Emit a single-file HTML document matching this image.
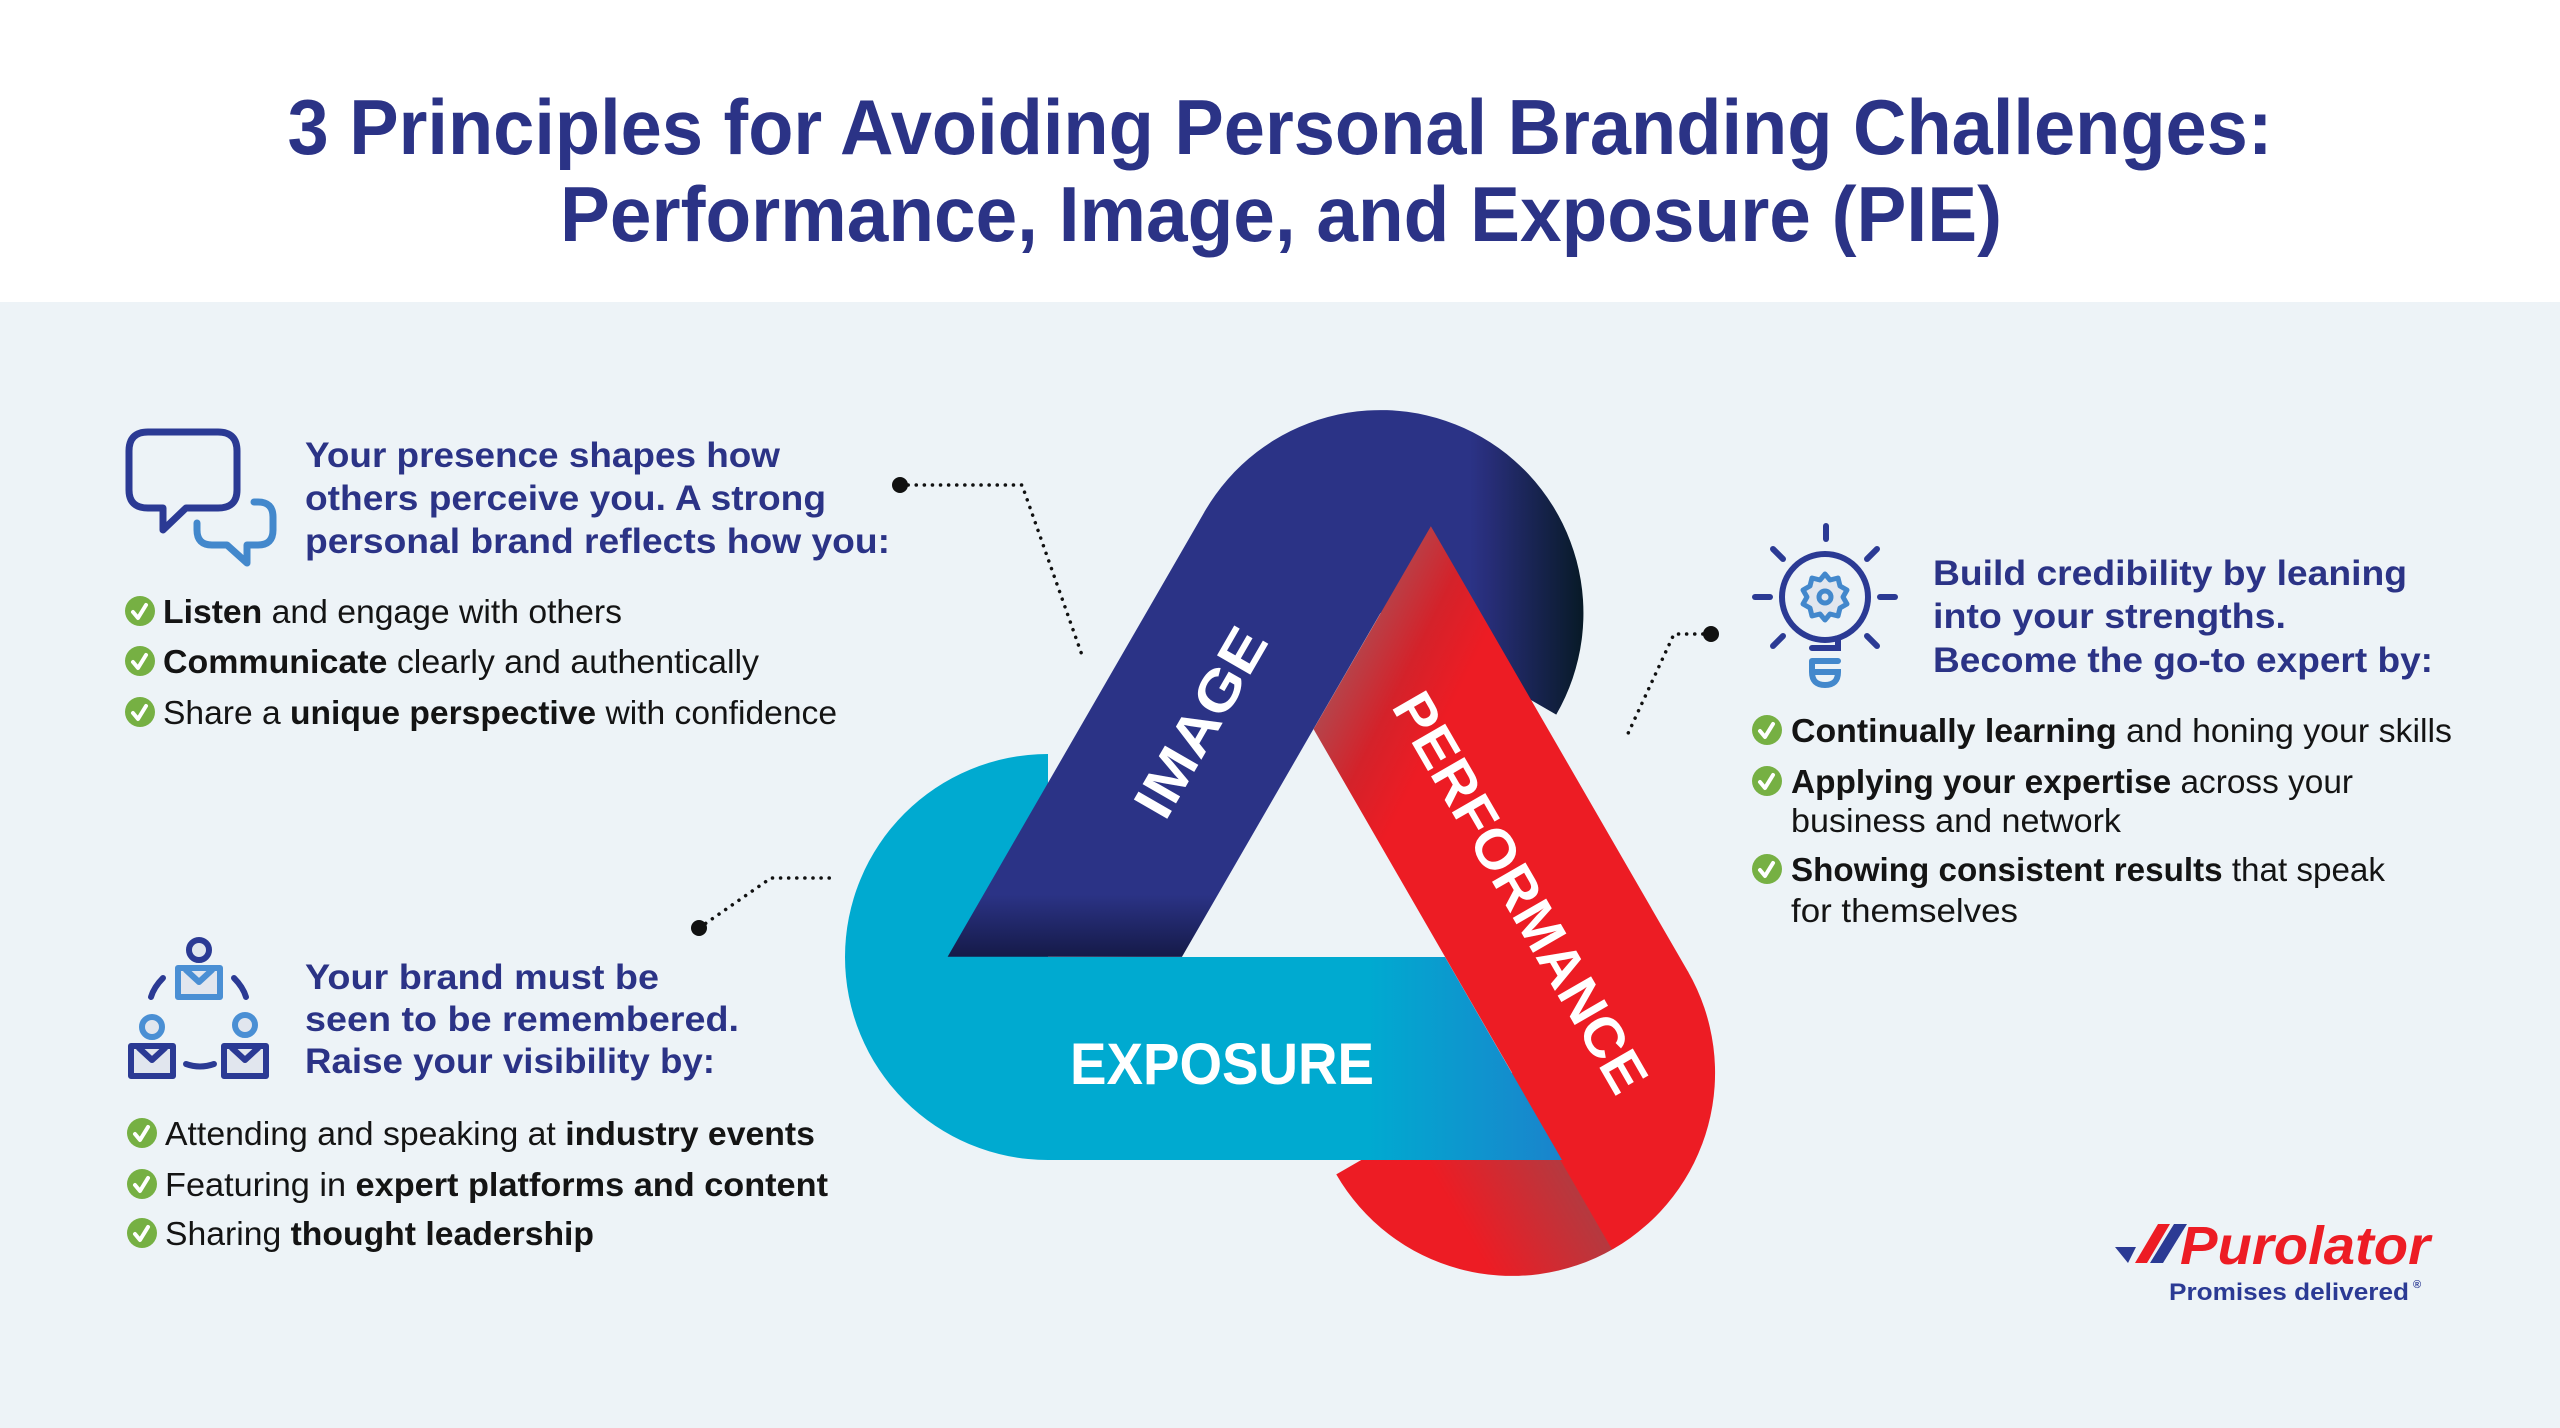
<!DOCTYPE html>
<html><head><meta charset="utf-8"><style>
html,body{margin:0;padding:0;background:#edf3f7;}
svg{display:block;}
text{font-family:"Liberation Sans",sans-serif;}
.h{font-weight:bold;fill:#2b3386;font-size:35px;}
.b{fill:#141414;font-size:33px;}
.b tspan.k{font-weight:bold;}
</style></head><body>
<svg width="2560" height="1428" viewBox="0 0 2560 1428" xmlns="http://www.w3.org/2000/svg">
<defs>
  <linearGradient id="cyS" gradientUnits="userSpaceOnUse" x1="1368" y1="0" x2="1560" y2="0">
    <stop offset="0" stop-color="#00aad0"/><stop offset="1" stop-color="#1a84cc"/></linearGradient>
  <linearGradient id="blS" gradientUnits="userSpaceOnUse" x1="0" y1="895" x2="0" y2="957" gradientTransform="rotate(-120 1313.5 881)">
    <stop offset="0" stop-color="#2b3386"/><stop offset="1" stop-color="#151a48"/></linearGradient>
  <linearGradient id="blC" gradientUnits="userSpaceOnUse" x1="1470" y1="0" x2="1582" y2="0" gradientTransform="rotate(-120 1313.5 881)">
    <stop offset="0" stop-color="#2b3386"/><stop offset="0.15" stop-color="#282e7a"/><stop offset="1" stop-color="#081a28"/></linearGradient>
  <linearGradient id="rdS" gradientUnits="userSpaceOnUse" x1="1400" y1="560" x2="1500" y2="610" gradientTransform="rotate(-240 1313.5 881)">
    <stop offset="0" stop-color="#b6434a"/><stop offset="0.5" stop-color="#d4222a"/><stop offset="1" stop-color="#ed1c24"/></linearGradient>
  <linearGradient id="rdC" gradientUnits="userSpaceOnUse" x1="0" y1="700" x2="0" y2="1160">
    <stop offset="0" stop-color="#ed1c24"/>
    <stop offset="0.30" stop-color="#ed1c24"/>
    <stop offset="0.554" stop-color="#b5393f"/>
    <stop offset="0.556" stop-color="#ed1c24"/>
    <stop offset="1" stop-color="#ed1c24"/></linearGradient>
</defs>
<rect x="0" y="0" width="2560" height="1428" fill="#edf3f7"/>
<rect x="0" y="0" width="2560" height="302" fill="#ffffff"/>

<text x="1280" y="154" text-anchor="middle" font-size="78" font-weight="bold" fill="#2b3386" textLength="1985" lengthAdjust="spacingAndGlyphs">3 Principles for Avoiding Personal Branding Challenges:</text>
<text x="1281" y="241" text-anchor="middle" font-size="78" font-weight="bold" fill="#2b3386" textLength="1442" lengthAdjust="spacingAndGlyphs">Performance, Image, and Exposure (PIE)</text>

<!-- caps -->
<path d="M1048,754 A203,203 0 0 0 1048,1160 Z" fill="#00aad0"/>
<g transform="rotate(120 1313.5 881)"><path d="M1048,754 A203,203 0 0 0 1048,1160 Z" fill="url(#blC)"/></g>
<g transform="rotate(240 1313.5 881)"><path d="M1048,754 A203,203 0 0 0 1048,1160 Z" fill="url(#rdC)"/></g>
<!-- strips -->
<path d="M1047,957 L1445,957 L1562,1160 L1047,1160 Z" fill="url(#cyS)"/>
<g transform="rotate(120 1313.5 881)"><path d="M1047,957 L1445,957 L1562,1160 L1047,1160 Z" fill="url(#blS)"/></g>
<g transform="rotate(240 1313.5 881)"><path d="M1047,957 L1445,957 L1562,1160 L1047,1160 Z" fill="url(#rdS)"/></g>

<text x="1222" y="1084" text-anchor="middle" font-size="58" font-weight="bold" fill="#fff" textLength="304" lengthAdjust="spacingAndGlyphs">EXPOSURE</text>
<text transform="translate(1200,722) rotate(-60)" x="0" y="20" text-anchor="middle" font-size="56" font-weight="bold" fill="#fff" textLength="209" lengthAdjust="spacingAndGlyphs">IMAGE</text>
<text transform="translate(1521,892) rotate(60)" x="0" y="20" text-anchor="middle" font-size="56" font-weight="bold" fill="#fff" textLength="452" lengthAdjust="spacingAndGlyphs">PERFORMANCE</text>

<!-- connectors -->
<g fill="none" stroke="#111" stroke-width="3.5" stroke-linecap="round" stroke-dasharray="0.1 8">
  <polyline points="900,485 1022,485 1083,658"/>
  <polyline points="699,928 771,878 833,878"/>
  <polyline points="1711,634 1674,634 1625,740"/>
</g>
<circle cx="900" cy="485" r="8" fill="#111"/>
<circle cx="699" cy="928" r="8" fill="#111"/>
<circle cx="1711" cy="634" r="8" fill="#111"/>

<!-- speech bubbles icon -->
<g fill="none" stroke-linecap="round" stroke-linejoin="round" stroke-width="7">
  <path d="M148,432 H218 Q237,432 237,451 V490 Q237,508 218,508 H186 L163,530 V508 H148 Q129,508 129,490 V451 Q129,432 148,432 Z" stroke="#2b3a94"/>
  <path d="M197,523 V530 Q197,545 212,545 H227 L247,563 V545 H258 Q273,545 273,530 V517 Q273,502 258,502 H254" stroke="#4388cc"/>
</g>

<!-- people icon -->
<g fill="none" stroke-linecap="round" stroke-linejoin="round" stroke-width="6">
  <circle cx="199" cy="950" r="10" stroke="#2b3a94" fill="#e1e6ee"/>
  <path d="M178,968 H220 V997 H178 Z" stroke="#4a8fd4" fill="#e1e6ee"/>
  <path d="M186,970 L199,982 L212,970" stroke="#4a8fd4"/>
  <circle cx="152" cy="1027" r="10" stroke="#4a8fd4" fill="#e1e6ee"/>
  <path d="M131,1046 H173 V1076 H131 Z" stroke="#2b3a94" fill="#e1e6ee"/>
  <path d="M139,1048 L152,1060 L165,1048" stroke="#2b3a94"/>
  <circle cx="245" cy="1025" r="10" stroke="#4a8fd4" fill="#e1e6ee"/>
  <path d="M224,1046 H266 V1076 H224 Z" stroke="#2b3a94" fill="#e1e6ee"/>
  <path d="M232,1048 L245,1060 L258,1048" stroke="#2b3a94"/>
  <path d="M163,978 Q154,987 151,997" stroke="#2b3a94"/>
  <path d="M234,978 Q243,987 246,997" stroke="#2b3a94"/>
  <path d="M186,1064 Q200,1069 214,1064" stroke="#2b3a94"/>
</g>

<!-- lightbulb icon -->
<g fill="none" stroke-linecap="round" stroke-width="6">
  <circle cx="1825" cy="597" r="43" stroke="#2b3a94"/>
  <g stroke="#2b3a94">
    <line x1="1826" y1="526" x2="1826" y2="539"/>
    <line x1="1755" y1="597" x2="1770" y2="597"/>
    <line x1="1880" y1="597" x2="1895" y2="597"/>
    <line x1="1773" y1="549" x2="1783" y2="559"/>
    <line x1="1877" y1="549" x2="1867" y2="559"/>
    <line x1="1773" y1="646" x2="1783" y2="636"/>
    <line x1="1877" y1="646" x2="1867" y2="636"/>
    <path d="M1838,640 V648 H1812"/>
  </g>
  <path d="M1812,661 H1838 M1812,661 V672 Q1812,685 1825,685 Q1838,685 1838,672 H1814" stroke="#4388cc" stroke-width="6"/>
  <g stroke="#4388cc" stroke-width="5" fill="#e1e6ee">
    <path d="M1825,574 L1830,580 L1838,578 L1840,586 L1847,590 L1843,597 L1847,604 L1840,608 L1838,616 L1830,614 L1825,620 L1820,614 L1812,616 L1810,608 L1803,604 L1807,597 L1803,590 L1810,586 L1812,578 L1820,580 Z" stroke-linejoin="round"/>
    <circle cx="1825" cy="597" r="6" fill="none"/>
  </g>
</g>

<!-- check bullets -->
<g>
  <g fill="#76b043">
    <circle cx="140" cy="611" r="15"/><circle cx="140" cy="661" r="15"/><circle cx="140" cy="712" r="15"/>
    <circle cx="142" cy="1133" r="15"/><circle cx="142" cy="1184" r="15"/><circle cx="142" cy="1233" r="15"/>
    <circle cx="1767" cy="730" r="15"/><circle cx="1767" cy="781" r="15"/><circle cx="1767" cy="869" r="15"/>
  </g>
  <g fill="none" stroke="#fff" stroke-width="4" stroke-linecap="round" stroke-linejoin="round">
    <path d="M133,612 l5,6 l8,-13"/><path d="M133,662 l5,6 l8,-13"/><path d="M133,713 l5,6 l8,-13"/>
    <path d="M135,1134 l5,6 l8,-13"/><path d="M135,1185 l5,6 l8,-13"/><path d="M135,1234 l5,6 l8,-13"/>
    <path d="M1760,731 l5,6 l8,-13"/><path d="M1760,782 l5,6 l8,-13"/><path d="M1760,870 l5,6 l8,-13"/>
  </g>
</g>

<!-- block 1 -->
<text class="h" x="305" y="467" textLength="475" lengthAdjust="spacingAndGlyphs">Your presence shapes how</text>
<text class="h" x="305" y="510" textLength="521" lengthAdjust="spacingAndGlyphs">others perceive you. A strong</text>
<text class="h" x="305" y="553" textLength="585" lengthAdjust="spacingAndGlyphs">personal brand reflects how you:</text>
<text class="b" x="163" y="623" textLength="459" lengthAdjust="spacingAndGlyphs"><tspan class="k">Listen</tspan> and engage with others</text>
<text class="b" x="163" y="673" textLength="596" lengthAdjust="spacingAndGlyphs"><tspan class="k">Communicate</tspan> clearly and authentically</text>
<text class="b" x="163" y="724" textLength="674" lengthAdjust="spacingAndGlyphs">Share a <tspan class="k">unique perspective</tspan> with confidence</text>

<!-- block 2 -->
<text class="h" x="305" y="989" textLength="354" lengthAdjust="spacingAndGlyphs">Your brand must be</text>
<text class="h" x="305" y="1031" textLength="434" lengthAdjust="spacingAndGlyphs">seen to be remembered.</text>
<text class="h" x="305" y="1073" textLength="410" lengthAdjust="spacingAndGlyphs">Raise your visibility by:</text>
<text class="b" x="165" y="1145" textLength="650" lengthAdjust="spacingAndGlyphs">Attending and speaking at <tspan class="k">industry events</tspan></text>
<text class="b" x="165" y="1196" textLength="663" lengthAdjust="spacingAndGlyphs">Featuring in <tspan class="k">expert platforms and content</tspan></text>
<text class="b" x="165" y="1245" textLength="429" lengthAdjust="spacingAndGlyphs">Sharing <tspan class="k">thought leadership</tspan></text>

<!-- block 3 -->
<text class="h" x="1933" y="585" textLength="474" lengthAdjust="spacingAndGlyphs">Build credibility by leaning</text>
<text class="h" x="1933" y="628" textLength="353" lengthAdjust="spacingAndGlyphs">into your strengths.</text>
<text class="h" x="1933" y="672" textLength="500" lengthAdjust="spacingAndGlyphs">Become the go-to expert by:</text>
<text class="b" x="1791" y="742" textLength="661" lengthAdjust="spacingAndGlyphs"><tspan class="k">Continually learning</tspan> and honing your skills</text>
<text class="b" x="1791" y="793" textLength="562" lengthAdjust="spacingAndGlyphs"><tspan class="k">Applying your expertise</tspan> across your</text>
<text class="b" x="1791" y="832" textLength="330" lengthAdjust="spacingAndGlyphs">business and network</text>
<text class="b" x="1791" y="881" textLength="594" lengthAdjust="spacingAndGlyphs"><tspan class="k">Showing consistent results</tspan> that speak</text>
<text class="b" x="1791" y="922" textLength="227" lengthAdjust="spacingAndGlyphs">for themselves</text>

<!-- logo -->
<polygon points="2115,1247 2136,1247 2128,1263" fill="#2b3a94"/>
<polygon points="2158,1224 2170,1224 2147,1263 2135,1263" fill="#ed1c24"/>
<polygon points="2174,1224 2187,1224 2163,1263 2150,1263" fill="#2b3a94"/>
<text x="2180" y="1264" font-size="54" font-weight="bold" font-style="italic" fill="#ed1c24" textLength="250" lengthAdjust="spacingAndGlyphs">Purolator</text>
<text x="2169" y="1300" font-size="24" font-weight="bold" fill="#2b3a94" textLength="240" lengthAdjust="spacingAndGlyphs">Promises delivered</text>
<text x="2413" y="1288" font-size="11" font-weight="bold" fill="#2b3a94">®</text>
</svg>
</body></html>
